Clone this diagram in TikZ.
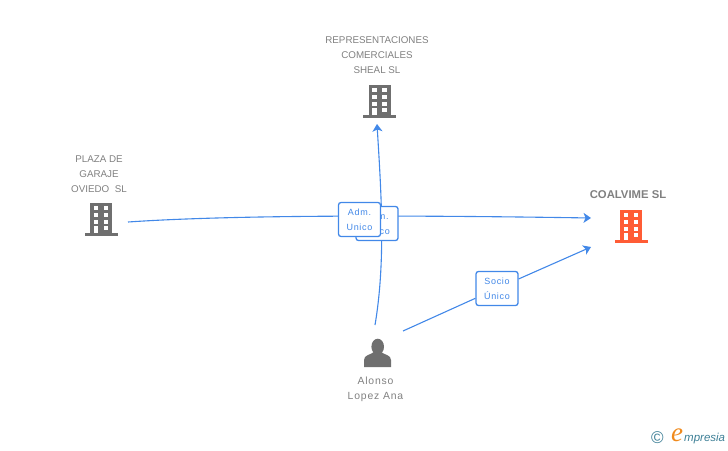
\documentclass[tikz,border=0pt]{standalone}
\usepackage{fontspec}
\setmainfont{Liberation Sans}
\newfontfamily\relfont[LetterSpace=8]{Liberation Sans}
\newfontfamily\logofont{Liberation Serif}
\usetikzlibrary{arrows.meta}

\definecolor{icongray}{HTML}{6F6F6F}
\definecolor{labelgray}{HTML}{808080}
\definecolor{linkblue}{HTML}{4288E8}
\definecolor{firmorange}{HTML}{FF5C35}
\definecolor{logoteal}{HTML}{3D7F96}
\definecolor{logoorange}{HTML}{F08A1D}

\tikzset{
 lbl/.style={text=labelgray,font=\fontsize{9.8}{15}\selectfont,align=center,inner sep=0pt},
 relbox/.style={draw=linkblue,line width=1.3pt,rounded corners=2.5pt,fill=white,text=linkblue,
   minimum width=42pt,minimum height=34pt,inner sep=0pt,align=center,font=\relfont\fontsize{9}{15}\selectfont},
 link/.style={draw=linkblue,line width=1.1pt},
 tip/.style={-{Stealth[length=7.5pt,width=10pt,inset=2pt]}},
 pics/firm/.style={code={
   \fill[#1] (-11,0) rectangle (11,-30.5);
   \fill[#1] (-16.5,0) rectangle (16.5,3);
   \foreach \y in {-27.5,-20.5,-13.5} {
     \fill[white] (-7.2,\y) rectangle (-3,\y+4);
     \fill[white] (2.8,\y) rectangle (7,\y+4);
   }
   \fill[white] (-7.2,-7.5) rectangle (-3,0);
   \fill[white] (2.8,-7.5) rectangle (7,-3.5);
 }}
}

\begin{document}
\begin{tikzpicture}[x=1pt,y=-1pt]
\useasboundingbox (0,0) rectangle (728,450);

% free ends of the connectors
\coordinate (plazaout) at (128,222);
\coordinate (coalin) at (591,218);
\coordinate (coalinb) at (591,247);
\coordinate (repin) at (377,124);
\coordinate (alonsoup) at (375,325);
\coordinate (alonsoright) at (403,331);

\draw[link,tip] (plazaout) .. controls (230,215) and (400,215) .. (coalin);
\draw[link,tip] (alonsoup) .. controls (386,260) and (381,190) .. (repin);

\node[relbox] (admb) at (377,223.5) {Adm.\\Unico};
\node[relbox] (adma) at (359.5,219.5) {Adm.\\Unico};
\node[relbox] (socio) at (497,288.5) {Socio\\Único};
\draw[link] (alonsoright) -- (socio);
\draw[link,tip] (socio) -- (coalinb);

\pic at (379.5,115) {firm=icongray};
\pic at (101,233) {firm=icongray};
\pic at (631,240) {firm=firmorange};

% person
\fill[icongray] (377.7,346.7) ellipse (6.3 and 8);
\fill[icongray] (364,367) -- (364,360) .. controls (364,355) and (370,355) .. (374,352) -- (381,352)
  .. controls (385,355) and (391,355) .. (391,360) -- (391,367) -- cycle;

\node[lbl] (rep) at (377,55) {REPRESENTACIONES\\COMERCIALES\\SHEAL SL};
\node[lbl] (plaza) at (99,174) {PLAZA DE\\GARAJE\\OVIEDO\ \ SL};
\node[lbl,font=\fontsize{11.3}{15}\selectfont\bfseries] (coal) at (628,195) {COALVIME SL};
\node[lbl,font=\relfont\fontsize{10.4}{15}\selectfont] (alonso) at (375.5,389) {Alonso\\Lopez Ana};

% logo
\node[text=logoteal,font=\fontsize{17}{17}\selectfont,inner sep=0pt] (copy) at (657.5,438) {©};
\node[text=logoorange,font=\logofont\fontsize{27}{27}\selectfont\itshape,inner sep=0pt] (logoe) at (677,435) {e};
\node[text=logoteal,font=\fontsize{11.5}{11}\selectfont\itshape,inner sep=0pt,anchor=west] (logotxt) at (684,438.5) {mpresia};
\end{tikzpicture}
\end{document}
